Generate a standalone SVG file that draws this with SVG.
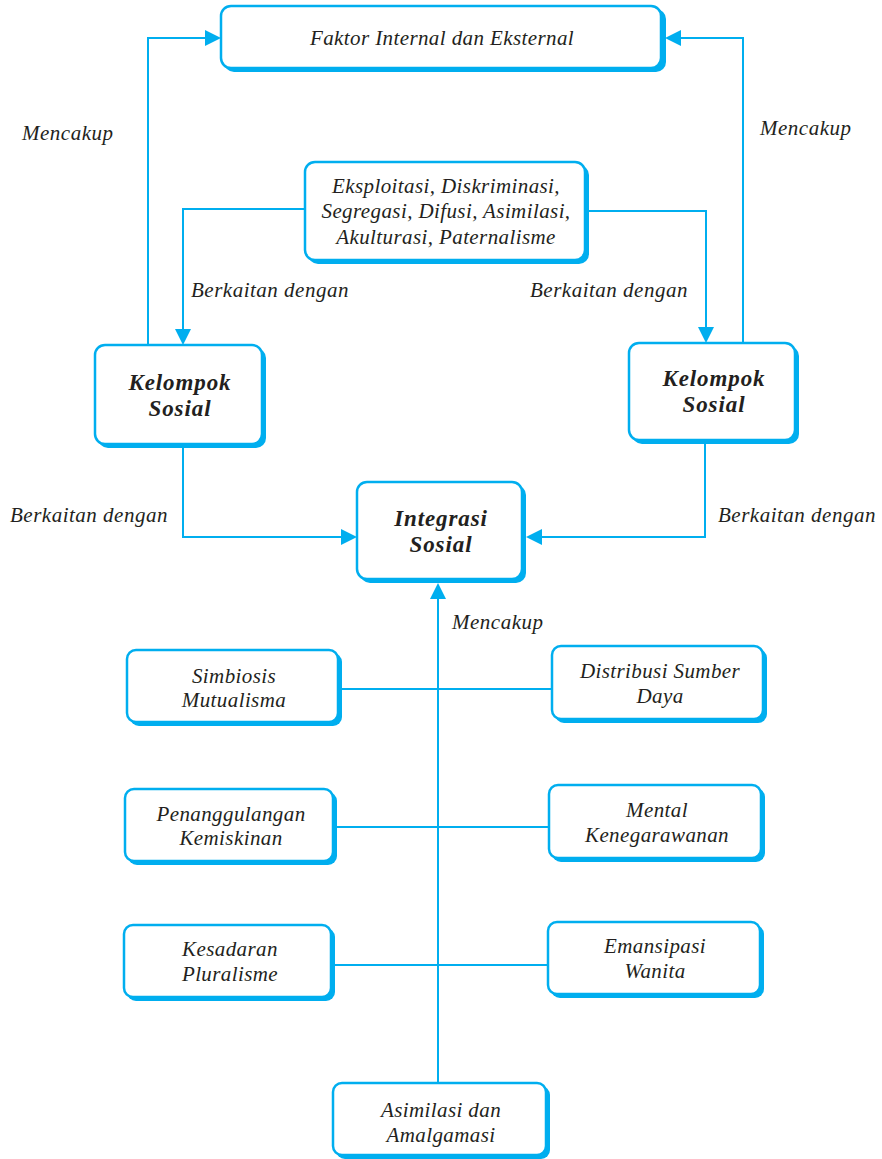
<svg xmlns="http://www.w3.org/2000/svg" width="882" height="1159" viewBox="0 0 882 1159">
<style>
.bx{fill:#fff;stroke:#00aeef;stroke-width:2.5}
.sh{fill:#00aeef}
.t{font-family:"Liberation Serif",serif;font-style:italic;font-size:21px;letter-spacing:0.4px;fill:#231f20;text-anchor:middle}
.b{font-family:"Liberation Serif",serif;font-style:italic;font-weight:bold;font-size:23px;letter-spacing:0.9px;fill:#231f20;text-anchor:middle}
.l{font-family:"Liberation Serif",serif;font-style:italic;font-size:21px;letter-spacing:0.5px;fill:#231f20}
.c{fill:none;stroke:#00aeef;stroke-width:2}
</style>
<rect width="882" height="1159" fill="#fff"/>
<g id="connectors">
<polyline class="c" points="148,345 148,38 208,38"/>
<polygon class="sh" points="221,38 205,30 205,46"/>
<polyline class="c" points="743,343 743,38 679,38"/>
<polygon class="sh" points="665,38 681,30 681,46"/>
<polyline class="c" points="305,209 183,209 183,332"/>
<polygon class="sh" points="183,345 175,329 191,329"/>
<polyline class="c" points="588,211 706,211 706,330"/>
<polygon class="sh" points="706,343 698,327 714,327"/>
<polyline class="c" points="183,447 183,537 344,537"/>
<polygon class="sh" points="357,537 341,529 341,545"/>
<polyline class="c" points="705,443 705,537 540,537"/>
<polygon class="sh" points="526,537 542,529 542,545"/>
<line class="c" x1="438" y1="1083" x2="438" y2="598"/>
<polygon class="sh" points="438,583 430,599 446,599"/>
<line class="c" x1="342" y1="689" x2="552" y2="689"/>
<line class="c" x1="336" y1="827" x2="549" y2="827"/>
<line class="c" x1="334" y1="965" x2="548" y2="965"/>
<text class="l" x="22" y="140">Mencakup</text>
<text class="l" x="760" y="135">Mencakup</text>
<text class="l" x="191" y="297">Berkaitan dengan</text>
<text class="l" x="530" y="297">Berkaitan dengan</text>
<text class="l" x="10" y="522">Berkaitan dengan</text>
<text class="l" x="718" y="522">Berkaitan dengan</text>
<text class="l" x="452" y="629">Mencakup</text>
</g>
<g id="n-faktor">
<rect class="sh" x="224" y="9" width="442" height="63" rx="10"/>
<rect class="bx" x="221" y="6" width="440" height="62" rx="10"/>
<text class="t" x="442" y="45">Faktor Internal dan Eksternal</text>
</g>
<g id="n-eksploitasi">
<rect class="sh" x="308" y="165" width="281" height="99" rx="10"/>
<rect class="bx" x="305" y="162" width="280" height="98" rx="10"/>
<text class="t" x="446" y="193">Eksploitasi, Diskriminasi,</text>
<text class="t" x="446" y="218">Segregasi, Difusi, Asimilasi,</text>
<text class="t" x="446" y="244">Akulturasi, Paternalisme</text>
</g>
<g id="n-kelompok-kiri">
<rect class="sh" x="98" y="348" width="168" height="100" rx="10"/>
<rect class="bx" x="95" y="345" width="167" height="99" rx="10"/>
<text class="b" x="180" y="390">Kelompok</text>
<text class="b" x="180" y="416">Sosial</text>
</g>
<g id="n-kelompok-kanan">
<rect class="sh" x="632" y="346" width="167" height="98" rx="10"/>
<rect class="bx" x="629" y="343" width="166" height="97" rx="10"/>
<text class="b" x="714" y="386">Kelompok</text>
<text class="b" x="714" y="412">Sosial</text>
</g>
<g id="n-integrasi">
<rect class="sh" x="360" y="485" width="166" height="98" rx="10"/>
<rect class="bx" x="357" y="482" width="165" height="97" rx="10"/>
<text class="b" x="441" y="526">Integrasi</text>
<text class="b" x="441" y="552">Sosial</text>
</g>
<g id="n-simbiosis">
<rect class="sh" x="130" y="653" width="212" height="73" rx="9"/>
<rect class="bx" x="127" y="650" width="211" height="72" rx="9"/>
<text class="t" x="234" y="683">Simbiosis</text>
<text class="t" x="234" y="707">Mutualisma</text>
</g>
<g id="n-distribusi">
<rect class="sh" x="555" y="649" width="212" height="74" rx="9"/>
<rect class="bx" x="552" y="646" width="211" height="73" rx="9"/>
<text class="t" x="660" y="678">Distribusi Sumber</text>
<text class="t" x="660" y="703">Daya</text>
</g>
<g id="n-penanggulangan">
<rect class="sh" x="128" y="792" width="209" height="73" rx="9"/>
<rect class="bx" x="125" y="789" width="208" height="72" rx="9"/>
<text class="t" x="231" y="821">Penanggulangan</text>
<text class="t" x="231" y="845">Kemiskinan</text>
</g>
<g id="n-mental">
<rect class="sh" x="552" y="788" width="213" height="74" rx="9"/>
<rect class="bx" x="549" y="785" width="212" height="73" rx="9"/>
<text class="t" x="657" y="817">Mental</text>
<text class="t" x="657" y="842">Kenegarawanan</text>
</g>
<g id="n-kesadaran">
<rect class="sh" x="127" y="928" width="208" height="73" rx="9"/>
<rect class="bx" x="124" y="925" width="207" height="72" rx="9"/>
<text class="t" x="230" y="956">Kesadaran</text>
<text class="t" x="230" y="981">Pluralisme</text>
</g>
<g id="n-emansipasi">
<rect class="sh" x="551" y="925" width="213" height="73" rx="9"/>
<rect class="bx" x="548" y="922" width="212" height="72" rx="9"/>
<text class="t" x="655" y="953">Emansipasi</text>
<text class="t" x="655" y="978">Wanita</text>
</g>
<g id="n-asimilasi">
<rect class="sh" x="336" y="1086" width="214" height="73" rx="9"/>
<rect class="bx" x="333" y="1083" width="213" height="72" rx="9"/>
<text class="t" x="441" y="1117">Asimilasi dan</text>
<text class="t" x="441" y="1142">Amalgamasi</text>
</g>
</svg>
